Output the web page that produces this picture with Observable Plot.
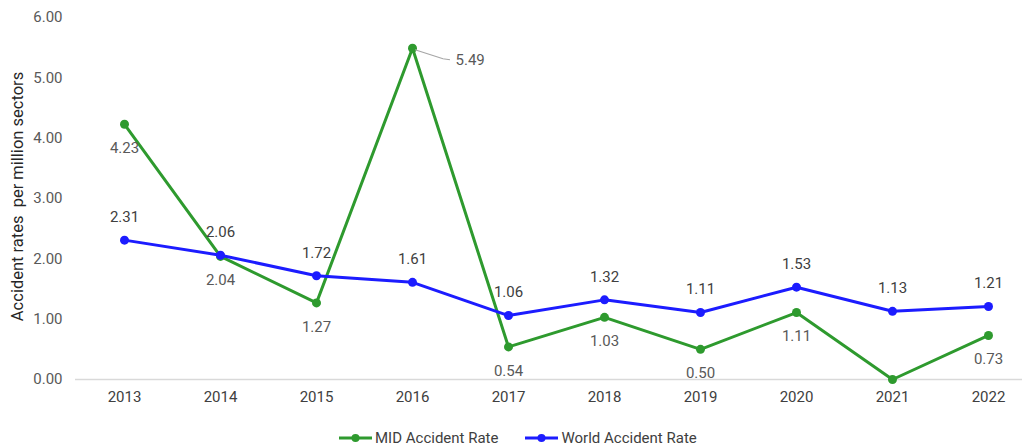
<!DOCTYPE html>
<html>
<head>
<meta charset="utf-8">
<script src="https://cdn.jsdelivr.net/npm/d3@7"></script>
<script src="https://cdn.jsdelivr.net/npm/@observablehq/plot@0.6"></script>
<style>
  html, body { margin: 0; padding: 0; background: #fff; }
  #wrap { position: relative; width: 1022px; height: 447px; overflow: hidden; font-family: Roboto, "Liberation Sans", sans-serif; }
  #legend { position: absolute; left: 338px; top: 429px; height: 18px; display: flex; align-items: center; font-size: 15px; color: #404040; white-space: nowrap; }
  .item { display: flex; align-items: center; margin-right: 26px; }
  .item svg { margin-right: 2px; }
</style>
</head>
<body>
<div id="wrap">
  <div id="chart"></div>
  <div id="legend"></div>
</div>
<script>
const years = ["2013","2014","2015","2016","2017","2018","2019","2020","2021","2022"];
const midRate = [4.23, 2.04, 1.27, 5.49, 0.54, 1.03, 0.50, 1.11, 0.00, 0.73];
const worldRate = [2.31, 2.06, 1.72, 1.61, 1.06, 1.32, 1.11, 1.53, 1.13, 1.21];
const yTicks = [0, 1, 2, 3, 4, 5, 6];
const seriesNames = ["MID Accident Rate", "World Accident Rate"];
const seriesColors = ["#2e9a2e", "#1c1cff"];
const yTitle = "Accident rates  per million sectors";

const mid = years.map((y, i) => ({year: y, value: midRate[i]}));
const world = years.map((y, i) => ({year: y, value: worldRate[i]}));
const fmt = d3.format(".2f");

const midBelow = mid.filter(d => d.year !== "2016" && d.value !== 0);
const midCallout = mid.filter(d => d.year === "2016");

function leader(index, scales) {
  const d = midCallout[0];
  const px = scales.x(d.year), py = scales.y(d.value);
  return d3.create("svg:path")
    .attr("d", `M${px + 3},${py + 2}L${px + 31},${py + 11}L${px + 38},${py + 12}`)
    .attr("fill", "none")
    .attr("stroke", "#a6a6a6")
    .attr("stroke-width", 1.2)
    .node();
}

const chart = Plot.plot({
  width: 1022,
  height: 420,
  marginLeft: 75,
  marginRight: 0,
  marginTop: 17,
  marginBottom: 41,
  style: {fontFamily: "Roboto, 'Liberation Sans', sans-serif", background: "#fff"},
  x: {type: "point", domain: years, range: [123, 988], padding: 0, label: null},
  y: {domain: [0, 6], label: null},
  marks: [
    Plot.ruleY([0], {stroke: "#d9d9d9", strokeWidth: 1.5}),
    Plot.axisY({ticks: yTicks, tickFormat: fmt, tickSize: 0, tickPadding: 13, fontSize: 15, color: "#595959", label: null}),
    Plot.axisX({tickSize: 0, tickPadding: 12, fontSize: 15, color: "#404040", label: null}),
    Plot.text([yTitle], {frameAnchor: "left", textAnchor: "middle", rotate: -90, dx: -58, dy: -2, fontSize: 16.5, fill: "#262626"}),
    Plot.line(mid, {x: "year", y: "value", stroke: seriesColors[0], strokeWidth: 3}),
    Plot.dot(mid, {x: "year", y: "value", fill: seriesColors[0], r: 4.5}),
    Plot.line(world, {x: "year", y: "value", stroke: seriesColors[1], strokeWidth: 3}),
    Plot.dot(world, {x: "year", y: "value", fill: seriesColors[1], r: 4.5}),
    leader,
    Plot.text(midBelow, {x: "year", y: "value", text: d => fmt(d.value), dy: 24, fontSize: 15, fill: "#595959"}),
    Plot.text(midCallout, {x: "year", y: "value", text: d => fmt(d.value), dx: 43, dy: 12, textAnchor: "start", fontSize: 15, fill: "#595959"}),
    Plot.text(world, {x: "year", y: "value", text: d => fmt(d.value), dy: -23, fontSize: 15, fill: "#404040"})
  ]
});
document.getElementById("chart").appendChild(chart);

const legend = document.getElementById("legend");
seriesNames.forEach((name, i) => {
  const item = document.createElement("div");
  item.className = "item";
  item.innerHTML = `<svg width="35" height="10"><line x1="1" y1="5" x2="34" y2="5" stroke="${seriesColors[i]}" stroke-width="3"/><circle cx="17.5" cy="5" r="4" fill="${seriesColors[i]}"/></svg><span>${name}</span>`;
  legend.appendChild(item);
});
</script>
</body>
</html>
